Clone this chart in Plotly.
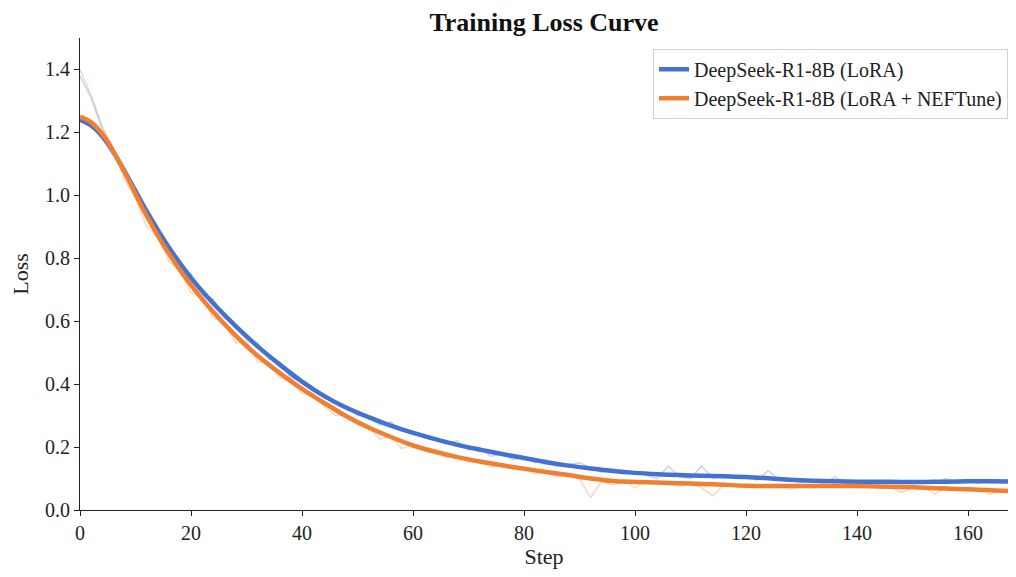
import plotly.graph_objects as go

# ---- data ----
smooth_steps = [0, 2, 4, 6, 8, 10, 12, 16, 20, 24, 28, 32, 36, 40, 44, 48, 52, 56, 60,
                64, 68, 72, 76, 80, 84, 88, 92, 96, 100, 104, 108, 112, 116, 120, 124,
                128, 132, 136, 140, 144, 148, 152, 156, 160, 164, 168]
lora_smooth = [1.240, 1.222, 1.188, 1.138, 1.078, 1.014, 0.950, 0.835, 0.738, 0.657,
               0.585, 0.520, 0.462, 0.408, 0.362, 0.325, 0.295, 0.268, 0.245, 0.225,
               0.207, 0.192, 0.178, 0.165, 0.152, 0.141, 0.132, 0.124, 0.118, 0.114,
               0.111, 0.109, 0.107, 0.105, 0.101, 0.096, 0.093, 0.091, 0.090, 0.090,
               0.089, 0.089, 0.090, 0.091, 0.091, 0.090]
nef_smooth = [1.250, 1.232, 1.195, 1.140, 1.075, 1.005, 0.935, 0.815, 0.715, 0.630,
              0.555, 0.490, 0.435, 0.385, 0.340, 0.298, 0.262, 0.232, 0.205, 0.185,
              0.168, 0.154, 0.142, 0.131, 0.121, 0.111, 0.100, 0.092, 0.089, 0.087,
              0.085, 0.083, 0.080, 0.077, 0.076, 0.076, 0.076, 0.076, 0.076, 0.075,
              0.073, 0.071, 0.068, 0.066, 0.063, 0.060]

raw_steps = list(range(0, 169, 2))
lora_raw = [1.38, 1.31, 1.21, 1.15, 1.07, 0.99, 0.95, 0.88, 0.83, 0.77,
            0.75, 0.69, 0.67, 0.61, 0.59, 0.55, 0.53, 0.48, 0.47, 0.42,
            0.41, 0.38, 0.37, 0.34, 0.33, 0.30, 0.30, 0.27, 0.28, 0.25,
            0.25, 0.23, 0.23, 0.21, 0.22, 0.19, 0.20, 0.17, 0.18, 0.16,
            0.17, 0.15, 0.16, 0.14, 0.145, 0.15, 0.135, 0.12, 0.13, 0.115,
            0.12, 0.11, 0.10, 0.14, 0.105, 0.10, 0.14, 0.10, 0.11, 0.10,
            0.11, 0.095, 0.125, 0.095, 0.095, 0.088, 0.095, 0.085, 0.105, 0.085,
            0.095, 0.085, 0.09, 0.085, 0.09, 0.083, 0.088, 0.085, 0.10, 0.085,
            0.09, 0.085, 0.095, 0.088, 0.10]
nef_raw = [1.40, 1.32, 1.22, 1.15, 1.05, 0.99, 0.90, 0.87, 0.79, 0.76,
           0.69, 0.68, 0.61, 0.60, 0.53, 0.54, 0.47, 0.47, 0.42, 0.41,
           0.37, 0.37, 0.33, 0.30, 0.30, 0.27, 0.265, 0.225, 0.235, 0.195,
           0.21, 0.19, 0.19, 0.165, 0.175, 0.15, 0.16, 0.135, 0.145, 0.13,
           0.135, 0.115, 0.12, 0.105, 0.115, 0.10, 0.04, 0.09, 0.08, 0.095,
           0.07, 0.095, 0.08, 0.09, 0.075, 0.085, 0.07, 0.045, 0.08, 0.08,
           0.07, 0.078, 0.07, 0.08, 0.065, 0.078, 0.07, 0.078, 0.072, 0.08,
           0.072, 0.075, 0.07, 0.072, 0.055, 0.07, 0.075, 0.05, 0.072, 0.065,
           0.06, 0.068, 0.05, 0.062, 0.055]

names = ["DeepSeek-R1-8B (LoRA)", "DeepSeek-R1-8B (LoRA + NEFTune)"]
x_ticks = [0, 20, 40, 60, 80, 100, 120, 140, 160]
y_ticks = [0.0, 0.2, 0.4, 0.6, 0.8, 1.0, 1.2, 1.4]

BLUE = "#4472d0"
ORANGE = "#f07f30"

fig = go.Figure()
fig.add_trace(go.Scatter(x=raw_steps, y=lora_raw, mode="lines",
                         line=dict(color="rgba(68,114,208,0.33)", width=1.4),
                         showlegend=False, hoverinfo="skip"))
fig.add_trace(go.Scatter(x=raw_steps, y=nef_raw, mode="lines",
                         line=dict(color="rgba(240,127,48,0.33)", width=1.4),
                         showlegend=False, hoverinfo="skip"))
fig.add_trace(go.Scatter(x=smooth_steps, y=lora_smooth, mode="lines", name=names[0],
                         line=dict(color=BLUE, width=4.5, shape="spline", smoothing=0.8)))
fig.add_trace(go.Scatter(x=smooth_steps, y=nef_smooth, mode="lines", name=names[1],
                         line=dict(color=ORANGE, width=4.5, shape="spline", smoothing=0.8)))

# The page body has an 8px margin; size the figure so the page does not overflow.
font_family = "Liberation Serif, Times New Roman, serif"
fig.update_layout(
    width=1000, height=561,
    margin=dict(l=72, r=0, t=30, b=59, autoexpand=False),
    paper_bgcolor="white", plot_bgcolor="white",
    font=dict(family=font_family, size=20, color="#222"),
    title=dict(text="<b>Training Loss Curve</b>", x=0.5, xref="paper", xanchor="center",
               y=0.975, yref="container", yanchor="middle", font=dict(size=26, color="#111")),
    legend=dict(x=1.0, y=0.977, xanchor="right", yanchor="top",
                bgcolor="white", bordercolor="#d0d0d0", borderwidth=1,
                font=dict(size=20, color="#222"), tracegroupgap=0),
    showlegend=True,
)
fig.update_xaxes(range=[0, 167.2], tickvals=x_ticks, showgrid=False, zeroline=False,
                 automargin=False,
                 showline=True, linecolor="#222", linewidth=1.2,
                 ticks="outside", ticklen=5, tickcolor="#222",
                 title=dict(text="Step", font=dict(size=22)),
                 tickfont=dict(size=20))
fig.update_yaxes(range=[0, 1.5], tickvals=y_ticks, tickformat=".1f",
                 showgrid=False, zeroline=False, automargin=False,
                 showline=True, linecolor="#222", linewidth=1.2,
                 ticks="outside", ticklen=5, tickcolor="#222",
                 title=dict(text="Loss", font=dict(size=22)),
                 tickfont=dict(size=20))

fig.write_html("out.html")
